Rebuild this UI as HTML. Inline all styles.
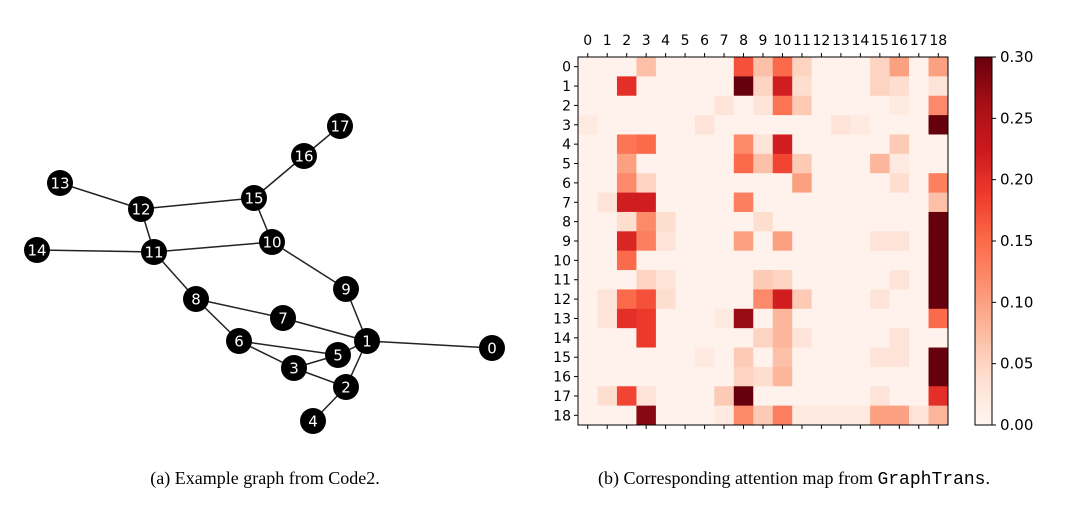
<!DOCTYPE html>
<html><head><meta charset="utf-8"><style>
body{margin:0;background:#fff;width:1080px;height:512px;overflow:hidden}
svg{display:block}
</style></head><body>
<svg id="root" width="1080" height="512" xmlns="http://www.w3.org/2000/svg">
<g id="graph"></g>
<g id="heat"></g>
<g id="cbar"></g>
<text x="265" y="484" font-family="Liberation Serif, serif" font-size="18" text-anchor="middle">(a) Example graph from Code2.</text>
<text x="794" y="484" font-family="Liberation Serif, serif" font-size="18" text-anchor="middle">(b) Corresponding attention map from <tspan font-family="Liberation Mono, monospace">GraphTrans</tspan>.</text>
</svg>
<script>
const nodeIds=[0,1,2,3,4,5,6,7,8,9,10,11,12,13,14,15,16,17];
const nodeX=[492,367,346,294,313,338,239,283,196,346,272,154,141,60,37,254,304,340];
const nodeY=[348,341,387,368,421,355,341,318,299,289,242,252,209,183,250,198,156,126];
const edges=[[13,12],[12,15],[12,11],[15,10],[15,16],[16,17],[14,11],[11,10],[11,8],[10,9],[9,1],[8,7],[8,6],[7,1],[1,0],[1,5],[1,2],[6,5],[6,3],[3,5],[3,2],[2,4]];
const labels=[...Array(19).keys()];
const cbTicks=[0,0.05,0.10,0.15,0.20,0.25,0.30];
const vals=[
[1,1,1,7,1,1,1,1,17,7,15,5,1,1,1,5,10,1,10],
[1,1,20,1,1,1,1,1,30,5,22,4,1,1,1,5,4,1,3],
[1,1,1,1,1,1,1,3,1,3,14,6,1,1,1,1,2,1,12],
[2,1,1,1,1,1,3,1,1,1,1,1,1,3,2,1,1,1,30],
[1,1,14,15,1,1,1,1,12,3,22,1,1,1,1,1,6,1,1],
[1,1,10,1,1,1,1,1,15,7,18,6,1,1,1,8,2,1,1],
[1,1,12,5,1,1,1,1,1,1,1,10,1,1,1,1,4,1,13],
[1,3,22,22,1,1,1,1,13,1,1,1,1,1,1,1,1,1,7],
[1,1,4,12,4,1,1,1,1,4,1,1,1,1,1,1,1,1,30],
[1,1,21,13,3,1,1,1,10,1,10,1,1,1,1,3,3,1,30],
[1,1,15,1,1,1,1,1,1,1,1,1,1,1,1,1,1,1,30],
[1,1,1,5,3,1,1,1,1,6,5,1,1,1,1,1,3,1,30],
[1,3,15,17,4,1,1,1,1,12,22,6,1,1,1,3,1,1,30],
[1,3,20,19,1,1,1,2,27,1,8,1,1,1,1,1,1,1,15],
[1,1,1,19,1,1,1,1,1,5,8,3,1,1,1,1,3,1,1],
[1,1,1,1,1,1,2,1,6,1,7,1,1,1,1,3,3,1,30],
[1,1,1,1,1,1,1,1,5,4,8,1,1,1,1,1,1,1,30],
[1,4,18,3,1,1,1,6,30,1,1,1,1,1,1,3,1,1,20],
[1,1,1,28,1,1,1,2,12,6,13,2,2,2,2,10,10,3,8]];
const NS='http://www.w3.org/2000/svg';
function mk(p,t,a){const e=document.createElementNS(NS,t);for(const k in a)e.setAttribute(k,a[k]);p.appendChild(e);return e;}
const stops=[[255,245,240],[254,224,210],[252,187,161],[252,146,114],[251,106,74],[239,59,44],[203,24,29],[165,15,21],[103,0,13]];
function cmap(t){t=Math.max(0,Math.min(1,t))*8;const i=Math.min(7,Math.floor(t)),f=t-i;const a=stops[i],b=stops[i+1];return 'rgb('+a.map((v,k)=>Math.round(v+(b[k]-v)*f)).join(',')+')';}
const g=document.getElementById('graph');
edges.forEach(([a,b])=>{const l=mk(g,'line',{x1:nodeX[a],y1:nodeY[a],x2:nodeX[b],y2:nodeY[b],stroke:'#222','stroke-width':1.5});

});
nodeIds.forEach((id,i)=>{const c=mk(g,'circle',{cx:nodeX[i],cy:nodeY[i],r:13,fill:'#000'});


const t=mk(g,'text',{x:nodeX[i],y:nodeY[i]+5.5,fill:'#fff','font-family':'DejaVu Sans, sans-serif','font-size':15,'text-anchor':'middle'});t.textContent=id;

});
const h=document.getElementById('heat');
const X0=578,Y0=57,W=370,H=368,n=19,cw=W/n,ch=H/n,vmax=0.30;
const xs=i=>X0+i*cw, ys=j=>Y0+j*ch;
vals.forEach((row,r)=>row.forEach((v,c)=>{const vv=v<=1?0.5:v;const e=mk(h,'rect',{x:xs(c),y:ys(r),width:cw+0.5,height:ch+0.5,fill:cmap(vv/100/vmax)});

}));
mk(h,'rect',{x:X0,y:Y0,width:W,height:H,fill:'none',stroke:'#000','stroke-width':1});
labels.forEach((l,i)=>{const cx=xs(i)+cw/2,cy=ys(i)+ch/2;
mk(h,'line',{x1:cx,y1:Y0,x2:cx,y2:Y0-4,stroke:'#000'});
mk(h,'line',{x1:cx,y1:Y0+H,x2:cx,y2:Y0+H+4,stroke:'#000'});
mk(h,'line',{x1:X0,y1:cy,x2:X0-4,y2:cy,stroke:'#000'});
const t=mk(h,'text',{x:cx,y:Y0-12,'font-family':'DejaVu Sans, sans-serif','font-size':14,'text-anchor':'middle'});t.textContent=l;


const t2=mk(h,'text',{x:X0-7,y:cy+5,'font-family':'DejaVu Sans, sans-serif','font-size':14,'text-anchor':'end'});t2.textContent=l;

});
const cb=document.getElementById('cbar');
const CX=975,CW=17,CY=57,CH=368;
const defs=mk(cb,'defs',{});const lg=mk(defs,'linearGradient',{id:'gr',x1:0,y1:1,x2:0,y2:0});
for(let i=0;i<=16;i++)mk(lg,'stop',{offset:i/16,'stop-color':cmap(i/16)});
mk(cb,'rect',{x:CX,y:CY,width:CW,height:CH,fill:'url(#gr)',stroke:'#000','stroke-width':1});
cbTicks.forEach(v=>{const y=CY+CH-v/vmax*CH;mk(cb,'line',{x1:CX+CW,y1:y,x2:CX+CW+4,y2:y,stroke:'#000'});
const t=mk(cb,'text',{x:CX+CW+8,y:y+5,'font-family':'DejaVu Sans, sans-serif','font-size':15});t.textContent=v.toFixed(2);

});
</script>
</body></html>
